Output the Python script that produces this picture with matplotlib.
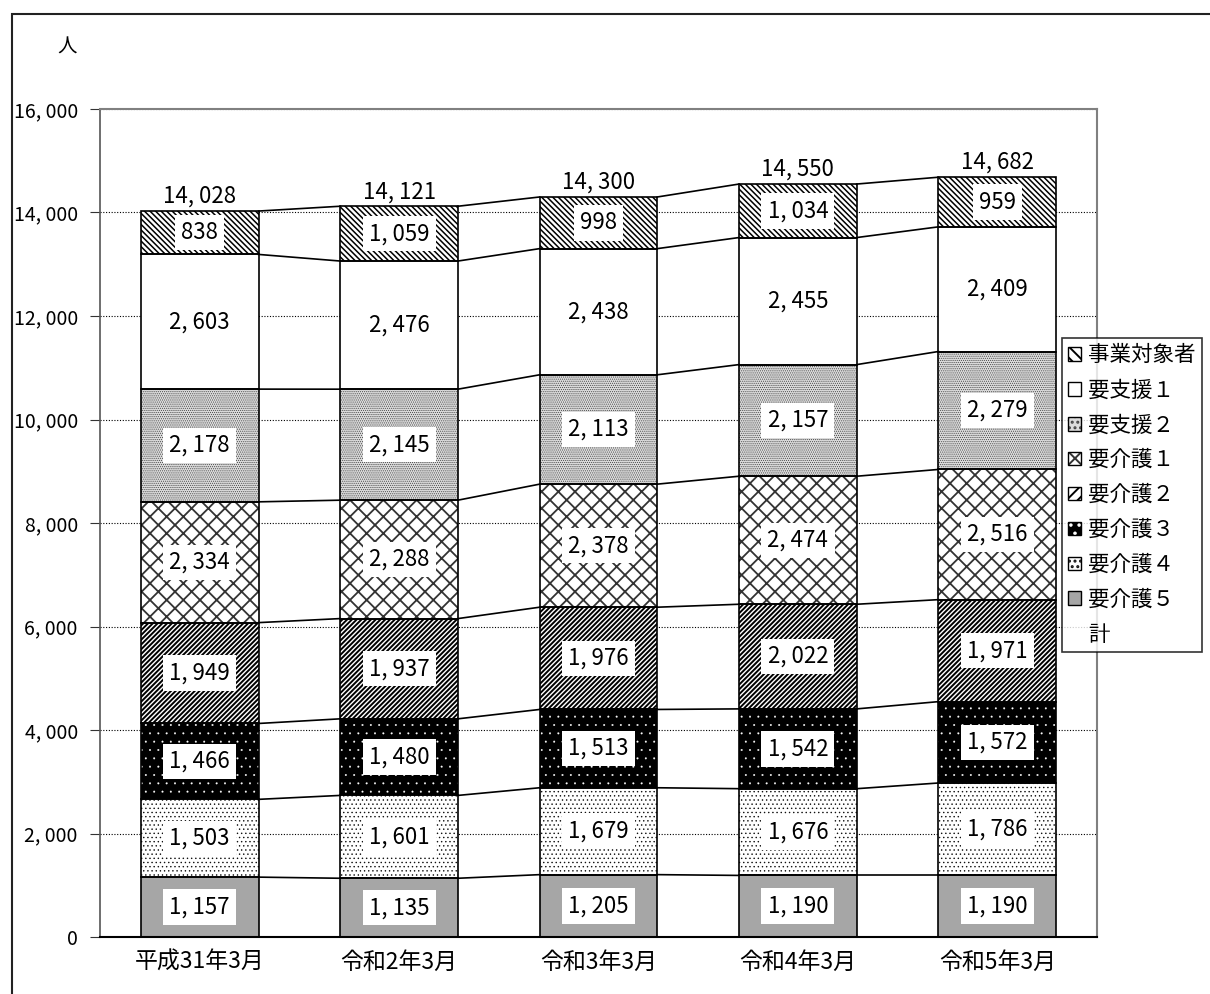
import matplotlib
matplotlib.use("Agg")
import matplotlib.pyplot as plt
from matplotlib.patches import Patch, Rectangle
import numpy as np

plt.rcParams['font.family'] = ['Noto Sans CJK JP', 'DejaVu Sans']
plt.rcParams['hatch.linewidth'] = 1.4

# data
months = ["平成31年3月", "令和2年3月", "令和3年3月", "令和4年3月", "令和5年3月"]
series_names = ["要介護５", "要介護４", "要介護３", "要介護２", "要介護１", "要支援２", "要支援１", "事業対象者"]
kaigo5 = [1157, 1135, 1205, 1190, 1190]
kaigo4 = [1503, 1601, 1679, 1676, 1786]
kaigo3 = [1466, 1480, 1513, 1542, 1572]
kaigo2 = [1949, 1937, 1976, 2022, 1971]
kaigo1 = [2334, 2288, 2378, 2474, 2516]
shien2 = [2178, 2145, 2113, 2157, 2279]
shien1 = [2603, 2476, 2438, 2455, 2409]
jigyo = [838, 1059, 998, 1034, 959]
totals = [14028, 14121, 14300, 14550, 14682]
yticks = [0, 2000, 4000, 6000, 8000, 10000, 12000, 14000, 16000]

values = [kaigo5, kaigo4, kaigo3, kaigo2, kaigo1, shien2, shien1, jigyo]
# (facecolor, hatchcolor, hatch, hatch linewidth)
styles = [
    ("#a6a6a6", None, None, 0),
    ("white", "#111111", "....", 0.5),
    ("black", "white", "..", 0.2),
    ("white", "black", "///////", 1.4),
    ("white", "#333333", "xx", 1.3),
    ("#dcdcdc", "#444444", "........", 0.5),
    ("white", None, None, 0),
    ("white", "black", "\\" * 6, 1.1),
]


def fmt(v):
    return f"{v:,}".replace(",", ", ")


def set_hlw(artists, lw):
    for a in artists:
        if hasattr(a, "set_hatch_linewidth"):
            a.set_hatch_linewidth(lw)


fig = plt.figure(figsize=(12.1, 9.94), dpi=100)
ax = fig.add_axes([100/1210, 1-937/994, 997/1210, 828/994])

x = np.arange(len(months))
w = 0.59
bottom = np.zeros(len(months))
tops = []
for vals, (fc, hc, hatch, hlw) in zip(values, styles):
    vals = np.array(vals)
    if hatch:
        with plt.rc_context({'hatch.linewidth': hlw}):
            bars = ax.bar(x, vals, w, bottom=bottom, color=fc, edgecolor=hc, hatch=hatch, linewidth=0, zorder=2)
        set_hlw(bars, hlw)
    else:
        ax.bar(x, vals, w, bottom=bottom, color=fc, linewidth=0, zorder=2)
    ax.bar(x, vals, w, bottom=bottom, fill=False, edgecolor="black", linewidth=1.2, zorder=3)
    for xi, b, v in zip(x, bottom, vals):
        ax.text(xi, b + v/2, fmt(v), ha="center", va="center", fontsize=16, zorder=5,
                bbox=dict(boxstyle="square,pad=0.28", fc="white", ec="none"))
    bottom = bottom + vals
    tops.append(bottom.copy())

# connecting lines between bars
for t in tops:
    for i in range(len(months) - 1):
        ax.plot([x[i] + w/2, x[i+1] - w/2], [t[i], t[i+1]], color="black", lw=1.2, zorder=3)

for xi, t in zip(x, totals):
    ax.text(xi, t + 60, fmt(t), ha="center", va="bottom", fontsize=16, zorder=5)

ax.set_xlim(-0.5, 4.5)
ax.set_ylim(0, 16000)
ax.set_yticks(yticks)
ax.set_yticklabels([fmt(v) for v in yticks], fontsize=14)
ax.set_xticks(x)
ax.set_xticklabels(months, fontsize=16.5)
ax.tick_params(axis="x", length=0, pad=10)
ax.tick_params(axis="y", length=7, width=0.8, color="#333333", pad=9)
ax.grid(axis="y", color="black", linestyle=(0, (1, 1.5)), linewidth=0.8, zorder=0)

for s in ["top", "right"]:
    ax.spines[s].set_color("#808080")
    ax.spines[s].set_linewidth(1.5)
ax.spines["left"].set_color("#555555")
ax.spines["left"].set_linestyle((0, (1, 1)))
ax.spines["left"].set_linewidth(1.2)
ax.spines["bottom"].set_color("black")
ax.spines["bottom"].set_linewidth(1.5)

fig.text(67/1210, 1-47/994, "人", ha="center", va="center", fontsize=14)

# outer frame
fig.patches.append(Rectangle((12/1210, -0.1), 1.2, 1.1 - 14/994, transform=fig.transFigure,
                             fill=False, edgecolor="#222222", linewidth=1.5, zorder=10))

# legend
handles = []
for name, (fc, hc, hatch, hlw) in zip(series_names, styles):
    border = Patch(fill=False, edgecolor="black", linewidth=1)
    if hatch:
        with plt.rc_context({'hatch.linewidth': min(hlw, 1.0)}):
            p = Patch(facecolor=fc, edgecolor=hc, hatch=hatch[:3], linewidth=0)
        set_hlw([p], min(hlw, 1.0))
        handles.append((p, border))
    else:
        handles.append((Patch(facecolor=fc, linewidth=0), border))
handles = handles[::-1]
labels = series_names[::-1]
handles.append(Patch(facecolor="none", edgecolor="none"))
labels.append("計")
leg = fig.legend(handles, labels, loc="upper left", bbox_to_anchor=(1062/1210, 1-338/994),
                 fontsize=15.5, frameon=True, fancybox=False, handlelength=0.6, handleheight=0.6,
                 handletextpad=0.3, labelspacing=0.6, borderpad=0.3, borderaxespad=0)
leg.get_frame().set_edgecolor("black")
leg.get_frame().set_linewidth(1.2)

fig.savefig("out.png", dpi=100)
